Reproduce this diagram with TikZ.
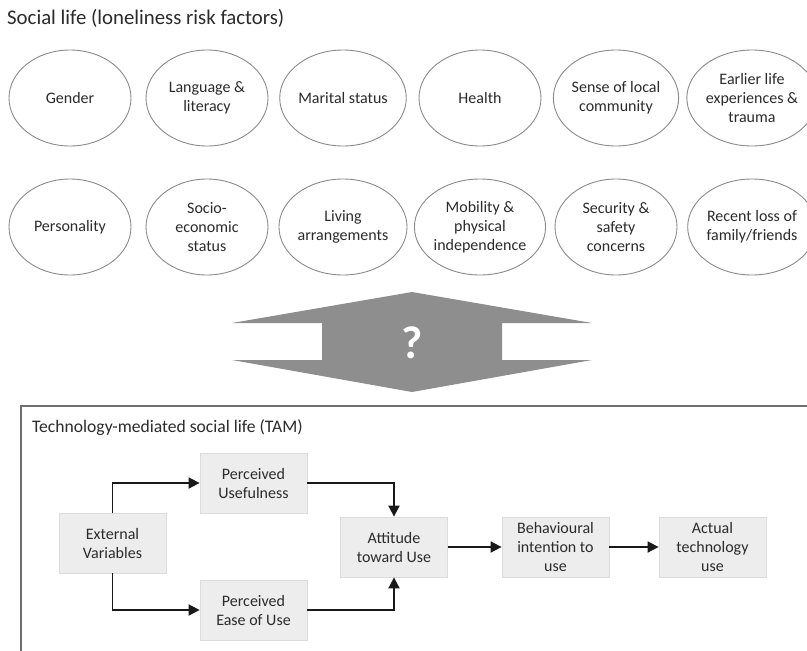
\documentclass[tikz,border=0pt]{standalone}
\usepackage{fontspec}
\setmainfont{Carlito}
\usetikzlibrary{shapes.geometric,arrows.meta}
\definecolor{txt}{HTML}{2B2B2B}
\definecolor{ellline}{HTML}{8A8A8A}
\definecolor{bigarrow}{HTML}{8E8E8E}
\definecolor{boxfill}{HTML}{EDEDED}
\definecolor{boxline}{HTML}{DCDCDC}
\definecolor{frame}{HTML}{6E6E6E}
\tikzset{
  factor/.style={ellipse, draw=ellline, line width=0.9pt, minimum width=122pt, minimum height=96pt, inner sep=0pt, align=center, text=txt, font=\fontsize{16pt}{18.8pt}\selectfont},
  tambox/.style={rectangle, fill=boxfill, draw=boxline, line width=0.8pt, minimum width=107pt, minimum height=60pt, inner sep=0pt, align=center, text=txt, font=\fontsize{16pt}{19pt}\selectfont},
  conn/.style={line width=1.8pt, draw=black!90, -{Triangle[length=11pt,width=11pt]}},
  heading/.style={anchor=base west, inner sep=0pt, text=txt}
}
\begin{document}
\begin{tikzpicture}[x=1pt,y=-1pt]
\clip (0,0) rectangle (807,651);
\fill[white] (0,0) rectangle (807,651);
% heading
\node[heading, font=\fontsize{20.8pt}{24pt}\selectfont] (t1) at (7,24) {Social life (loneliness risk factors)};
% row 1
\node[factor] (gender) at (70,98) {Gender};
\node[factor] (lang) at (207,98) {Language \&\\literacy};
\node[factor] (marital) at (343,98) {Marital status};
\node[factor] (health) at (480,98) {Health};
\node[factor] (sense) at (616,98) {Sense of local\\community};
\node[factor] (earlier) at (752,98) {Earlier life\\experiences \&\\trauma};
% row 2
\node[factor] (person) at (70,227) {Personality};
\node[factor] (socio) at (207,227) {Socio-\\economic\\status};
\node[factor] (living) at (343,227) {Living\\arrangements};
\node[factor] (mobility) at (480,227) {Mobility \&\\physical\\independence};
\node[factor] (security) at (616,227) {Security \&\\safety\\concerns};
\node[factor] (loss) at (752,227) {Recent loss of\\family/friends};
% double arrow
\fill[bigarrow] (232,323) -- (412,292) -- (592,323) -- (502,323) -- (502,360) -- (592,360) -- (412,392) -- (232,360) -- (322,360) -- (322,323) -- cycle;
\node[text=white, font=\fontsize{46pt}{50pt}\selectfont\bfseries] (q) at (412,343) {?};
% frame
\draw[frame, line width=2pt] (21,700) -- (21,406) -- (850,406);
\node[heading, font=\fontsize{17.6pt}{21pt}\selectfont] (t2) at (32,432) {Technology-mediated social life (TAM)};
% TAM boxes
\node[tambox] (ev) at (112.5,543) {External\\Variables};
\node[tambox] (pu) at (253.5,483) {Perceived\\Usefulness};
\node[tambox] (peou) at (253.5,610) {Perceived\\Ease of Use};
\node[tambox] (att) at (394,547) {Attitude\\toward Use};
\node[tambox] (bi) at (555.5,547) {Behavioural\\intention to\\use};
\node[tambox] (act) at (712.5,547) {Actual\\technology\\use};
% connectors
\draw[conn] (ev.north) |- (pu.west);
\draw[conn] (ev.south) |- (peou.west);
\draw[conn] (pu.east) -| (att.north);
\draw[conn] (peou.east) -| (att.south);
\draw[conn] (att.east) -- (bi.west);
\draw[conn] (bi.east) -- (act.west);
\end{tikzpicture}
\end{document}
